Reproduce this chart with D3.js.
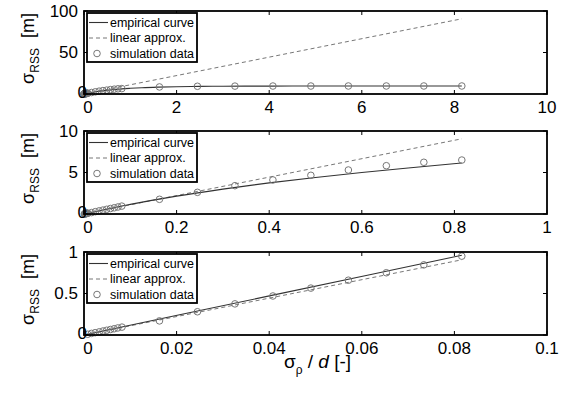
<!DOCTYPE html>
<html>
<head>
<meta charset="utf-8">
<script src="https://cdn.jsdelivr.net/npm/d3@7"></script>
<style>
  html, body { margin: 0; padding: 0; background: #fff; }
  svg { display: block; }
  text { font-family: "Liberation Sans", Arial, Helvetica, sans-serif; fill: #000; }
</style>
</head>
<body>
<svg id="chart" width="571" height="396"></svg>
<script>
// simulation data (same runs, viewed at three zoom levels)
const simX = [0.0008, 0.0016, 0.0024, 0.0033, 0.0041, 0.0049, 0.0057, 0.0065, 0.0073, 0.0082,
              0.0163, 0.0245, 0.0326, 0.0408, 0.049, 0.0571, 0.0653, 0.0734, 0.0816,
              0.163, 0.245, 0.326, 0.408, 0.49, 0.571, 0.653, 0.734, 0.816,
              1.63, 2.45, 3.26, 4.08, 4.9, 5.71, 6.53, 7.34, 8.16];
const simY = [0.009, 0.019, 0.028, 0.038, 0.048, 0.057, 0.066, 0.075, 0.085, 0.095,
              0.17, 0.28, 0.375, 0.47, 0.565, 0.66, 0.75, 0.845, 0.95,
              1.77, 2.61, 3.41, 4.1, 4.66, 5.3, 5.82, 6.23, 6.5,
              8.5, 9.3, 9.5, 9.6, 9.6, 9.65, 9.65, 9.65, 9.65];

// empirical curve
const empX = [0, 0.0204, 0.0408, 0.0612, 0.0816, 0.1, 0.2, 0.3, 0.4, 0.5, 0.6, 0.7, 0.816,
              1.0, 1.25, 1.6, 2.0, 2.5, 3, 4, 5, 6, 7, 8.16];
const empY = [0, 0.24, 0.48, 0.72, 0.96, 1.16, 2.15, 3.0, 3.75, 4.4, 5.0, 5.55, 6.15,
              6.85, 7.6, 8.3, 8.8, 9.15, 9.35, 9.52, 9.58, 9.6, 9.6, 9.6];

// linear approximation
const linX = [0, 0.0816, 0.816, 8.16];
const linY = [0, 0.906, 9.06, 90.6];

// axis ranges and ticks per panel
const xMax = [10, 1, 0.1];
const yMax = [100, 10, 1];
const xTicks = [[0, 2, 4, 6, 8, 10], [0, 0.2, 0.4, 0.6, 0.8, 1], [0, 0.02, 0.04, 0.06, 0.08, 0.1]];
const xTickLabels = [["0", "2", "4", "6", "8", "10"], ["0", "0.2", "0.4", "0.6", "0.8", "1"], ["0", "0.02", "0.04", "0.06", "0.08", "0.1"]];
const yTicks = [[0, 50, 100], [0, 5, 10], [0, 0.5, 1]];
const yTickLabels = [["0", "50", "100"], ["0", "5", "10"], ["0", "0.5", "1"]];

const legendLabels = ["empirical curve", "linear approx.", "simulation data"];

const svg = d3.select("#chart");
svg.append("rect").attr("width", 571).attr("height", 396).attr("fill", "#fff");

const left = 84, right = 547, panelH = 83;
const tops = [11, 131, 252];
const tickLen = 4;

const sim = simX.map((x, i) => ({ x, y: simY[i] }));
const emp = empX.map((x, i) => ({ x, y: empY[i] }));
const lin = linX.map((x, i) => ({ x, y: linY[i] }));

tops.forEach((top, p) => {
    const bottom = top + panelH;
    const x = d3.scaleLinear().domain([0, xMax[p]]).range([left, right]);
    const y = d3.scaleLinear().domain([0, yMax[p]]).range([bottom, top]);
    const g = svg.append("g");

    const line = d3.line().x(d => x(d.x)).y(d => y(d.y)).curve(d3.curveMonotoneX);
    const simHere = sim.filter(d => d.x <= xMax[p]);
    // curves stop at the last simulated point shown in this panel
    const xEnd = d3.max(simHere, d => d.x) + 1e-9;
    const upToEnd = d => d.x <= xEnd;

    // linear approx (dashed)
    g.append("path")
        .attr("d", line(lin.filter(upToEnd)))
        .attr("fill", "none")
        .attr("stroke", "#777")
        .attr("stroke-width", 1)
        .attr("stroke-dasharray", "4,3");

    // empirical curve
    g.append("path")
        .attr("d", line(emp.filter(upToEnd)))
        .attr("fill", "none")
        .attr("stroke", "#333")
        .attr("stroke-width", 1.1);

    // simulation circles
    g.selectAll("circle.sim")
        .data(simHere)
        .enter()
        .append("circle")
        .attr("class", "sim")
        .attr("cx", d => x(d.x))
        .attr("cy", d => y(d.y))
        .attr("r", 3.3)
        .attr("fill", "none")
        .attr("stroke", "#777")
        .attr("stroke-width", 1);

    // inner ticks on all four sides
    xTicks[p].forEach(t => {
        g.append("line").attr("x1", x(t)).attr("x2", x(t)).attr("y1", bottom).attr("y2", bottom - tickLen)
            .attr("stroke", "#000").attr("stroke-width", 1);
        g.append("line").attr("x1", x(t)).attr("x2", x(t)).attr("y1", top).attr("y2", top + tickLen)
            .attr("stroke", "#000").attr("stroke-width", 1);
    });
    yTicks[p].forEach(t => {
        g.append("line").attr("x1", left).attr("x2", left + tickLen).attr("y1", y(t)).attr("y2", y(t))
            .attr("stroke", "#000").attr("stroke-width", 1);
        g.append("line").attr("x1", right).attr("x2", right - tickLen).attr("y1", y(t)).attr("y2", y(t))
            .attr("stroke", "#000").attr("stroke-width", 1);
    });

    // box
    g.append("rect")
        .attr("x", left).attr("y", top)
        .attr("width", right - left).attr("height", panelH)
        .attr("fill", "none").attr("stroke", "#000").attr("stroke-width", 1.8);

    // tick labels (the zero labels are nudged away from the corner)
    g.selectAll("text.xt")
        .data(xTicks[p])
        .enter()
        .append("text")
        .attr("class", "xt")
        .attr("x", (d, i) => x(d) + (i === 0 ? 4 : 0))
        .attr("y", bottom + 19)
        .attr("text-anchor", "middle")
        .attr("font-size", 17)
        .text((d, i) => xTickLabels[p][i]);

    g.selectAll("text.yt")
        .data(yTicks[p])
        .enter()
        .append("text")
        .attr("class", "yt")
        .attr("x", (d, i) => i === 0 ? left + 3 : left - 6)
        .attr("y", (d, i) => y(d) - (i === 0 ? 2 : 0))
        .attr("dy", "0.35em")
        .attr("text-anchor", "end")
        .attr("font-size", 17)
        .text((d, i) => yTickLabels[p][i]);

    // y label: σ_RSS [m]
    const yl = g.append("text")
        .attr("transform", `translate(34, ${top + panelH / 2 - 4}) rotate(-90)`)
        .attr("text-anchor", "middle")
        .attr("font-size", 18);
    yl.append("tspan").text("σ");
    yl.append("tspan").attr("dy", 5).attr("font-size", 12).text("RSS");
    yl.append("tspan").attr("dy", -5).text("\u00a0 [m]");

    // legend
    const lg = g.append("g").attr("transform", `translate(87, ${top + 2})`);
    lg.append("rect")
        .attr("width", 110).attr("height", 49)
        .attr("fill", "#fff").attr("stroke", "#000").attr("stroke-width", 1.8);
    legendLabels.forEach((label, i) => {
        const cy = 9.5 + i * 15.5;
        if (i === 0) {
            lg.append("line").attr("x1", 2).attr("x2", 21).attr("y1", cy).attr("y2", cy)
                .attr("stroke", "#333").attr("stroke-width", 1.1);
        } else if (i === 1) {
            lg.append("line").attr("x1", 2).attr("x2", 21).attr("y1", cy).attr("y2", cy)
                .attr("stroke", "#777").attr("stroke-width", 1).attr("stroke-dasharray", "4,3");
        } else {
            lg.append("circle").attr("cx", 10).attr("cy", cy).attr("r", 3.3)
                .attr("fill", "none").attr("stroke", "#777").attr("stroke-width", 1);
        }
        lg.append("text")
            .attr("x", 23)
            .attr("y", cy)
            .attr("dy", "0.35em")
            .attr("font-size", 12.5)
            .text(label);
    });
});

// x label: σ_ρ / d [-]
const xl = svg.append("text")
    .attr("x", (left + right) / 2 + 2)
    .attr("y", 368)
    .attr("text-anchor", "middle")
    .attr("font-size", 19);
xl.append("tspan").text("σ");
xl.append("tspan").attr("dy", 6).attr("font-size", 12).text("ρ");
xl.append("tspan").attr("dy", -6).text(" / ");
xl.append("tspan").attr("font-style", "italic").text("d");
xl.append("tspan").text(" [-]");
</script>
</body>
</html>
